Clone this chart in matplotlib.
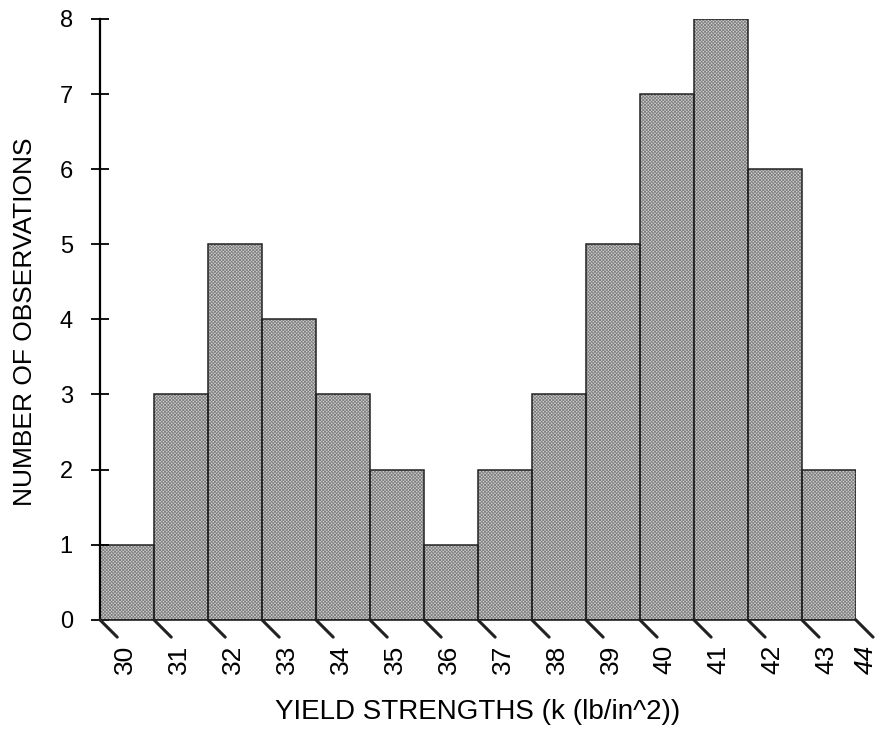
import matplotlib
matplotlib.use("Agg")
import matplotlib.pyplot as plt
import numpy as np

plt.rcParams["font.family"] = ["Liberation Sans", "DejaVu Sans"]
plt.rcParams["hatch.linewidth"] = 0.6

# histogram data
bin_edges = [30, 31, 32, 33, 34, 35, 36, 37, 38, 39, 40, 41, 42, 43, 44]
counts = [1, 3, 5, 4, 3, 2, 1, 2, 3, 5, 7, 8, 6, 2]
edge_labels = ["30", "31", "32", "33", "34", "35", "36", "37", "38", "39",
               "40", "41", "42", "43", "44"]
y_ticks = [0, 1, 2, 3, 4, 5, 6, 7, 8]

fig = plt.figure(figsize=(8.84, 7.3), dpi=100)
ax = fig.add_axes([0.113, 0.151, 0.855, 0.823])

lefts = np.array(bin_edges[:-1])
# halftone-ish fill: light face with a dense grey cross hatch
ax.bar(lefts, counts, width=1.0, align="edge", color="#d0d0d0",
       edgecolor="#808080", hatch="xxxxxxxxxx", linewidth=0)
# outlines on top
ax.bar(lefts, counts, width=1.0, align="edge", fill=False,
       edgecolor="#222222", linewidth=1.1)

ax.set_xlim(bin_edges[0], bin_edges[-1])
ax.set_ylim(0, 8)

for s in ("top", "right", "bottom"):
    ax.spines[s].set_visible(False)
ax.spines["left"].set_linewidth(1.6)
ax.plot([bin_edges[0], bin_edges[-1]], [0, 0], color="#222222", lw=1.2,
        clip_on=False)

ax.set_yticks(y_ticks)
ax.tick_params(axis="y", direction="inout", length=13, width=1.3,
               labelsize=17, pad=13)
ax.set_xticks([])

# slanted tick marks and rotated labels at each bin edge
for e, lab in zip(bin_edges, edge_labels):
    ax.annotate("", xy=(e, 0), xycoords="data",
                xytext=(12.5, -12.5), textcoords="offset points",
                arrowprops=dict(arrowstyle="-", color="#222222", lw=2.2,
                                shrinkA=0, shrinkB=0))
    dx = 7 if lab == "44" else 18
    ax.annotate(lab, xy=(e, 0), xycoords="data",
                xytext=(dx, -18), textcoords="offset points",
                rotation=90, ha="center", va="top", fontsize=19,
                style="italic" if lab == "44" else "normal")

fig.text(0.028, 0.559, "NUMBER OF OBSERVATIONS", rotation=90, ha="center",
         va="center", fontsize=19)
fig.text(0.54, 0.024, "YIELD STRENGTHS (k (lb/in^2))", ha="center",
         va="center", fontsize=20)

fig.savefig("out.png", dpi=100)
